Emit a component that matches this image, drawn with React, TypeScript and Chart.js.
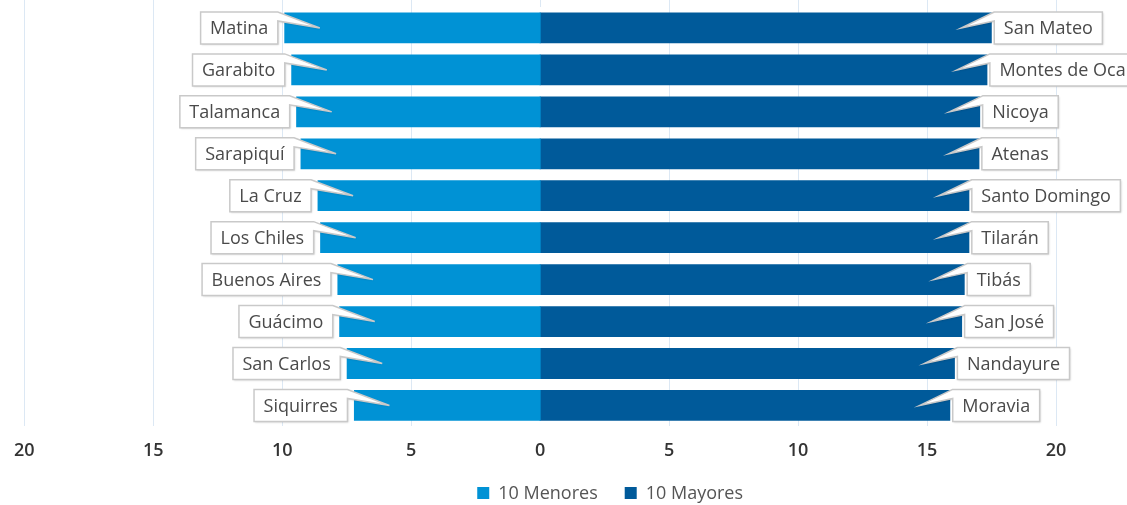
import React, { useEffect, useRef } from "react";
import { Chart, registerables } from "chart.js";

Chart.register(...registerables);

// ---- data ----
const menoresNames = [
  "Matina",
  "Garabito",
  "Talamanca",
  "Sarapiquí",
  "La Cruz",
  "Los Chiles",
  "Buenos Aires",
  "Guácimo",
  "San Carlos",
  "Siquirres",
];
const menoresValues = [9.9, 9.63, 9.44, 9.27, 8.61, 8.51, 7.84, 7.77, 7.48, 7.2];

const mayoresNames = [
  "San Mateo",
  "Montes de Oca",
  "Nicoya",
  "Atenas",
  "Santo Domingo",
  "Tilarán",
  "Tibás",
  "San José",
  "Nandayure",
  "Moravia",
];
const mayoresValues = [17.49, 17.32, 17.04, 17.01, 16.62, 16.62, 16.44, 16.34, 16.06, 15.88];

const seriesNames = ["10 Menores", "10 Mayores"];
const xMin = -20;
const xMax = 20;
const xStep = 5;

// ---- styles ----
const FONT = '"Open Sans", "DejaVu Sans", sans-serif';
const LIGHT = "#0092d5";
const DARK = "#005a9a";
const GRID = "#dce8f4";

const calloutPlugin = {
  id: "callouts",
  afterDatasetsDraw(chart: any) {
    const ctx = chart.ctx;
    ctx.save();
    ctx.font = `18px ${FONT}`;
    chart.data.datasets.forEach((_ds: any, di: number) => {
      const meta = chart.getDatasetMeta(di);
      const names = di === 0 ? menoresNames : mayoresNames;
      meta.data.forEach((bar: any, i: number) => {
        const { x, y } = bar.getProps(["x", "y"], true);
        const text = names[i];
        const tw = ctx.measureText(text).width;
        const bw = tw + 19;
        const bh = 32;
        const top = y - 16;
        let left: number;
        let right: number;
        ctx.beginPath();
        if (di === 0) {
          right = x - 7;
          left = right - bw;
          const tipX = x + 35;
          ctx.moveTo(left, top);
          ctx.lineTo(right, top);
          ctx.lineTo(tipX, y);
          ctx.lineTo(right, top + 9);
          ctx.lineTo(right, top + bh);
          ctx.lineTo(left, top + bh);
          ctx.closePath();
        } else {
          left = x + 3;
          right = left + bw;
          const tipX = x - 30;
          ctx.moveTo(left, top);
          ctx.lineTo(tipX, y);
          ctx.lineTo(left, top + 9);
          ctx.lineTo(left, top + bh);
          ctx.lineTo(right, top + bh);
          ctx.lineTo(right, top);
          ctx.closePath();
        }
        ctx.save();
        ctx.shadowColor = "rgba(0,0,0,0.18)";
        ctx.shadowBlur = 2;
        ctx.shadowOffsetX = 1;
        ctx.shadowOffsetY = 1;
        ctx.fillStyle = "#ffffff";
        ctx.fill();
        ctx.restore();
        ctx.lineWidth = 1.5;
        ctx.strokeStyle = "#c9c9c9";
        ctx.stroke();
        ctx.fillStyle = "#4a4a4a";
        ctx.textAlign = "center";
        ctx.textBaseline = "middle";
        ctx.fillText(text, left + bw / 2, y + 1);
      });
    });
    ctx.restore();
  },
};

const gridExtendPlugin = {
  id: "gridExtend",
  beforeDatasetsDraw(chart: any) {
    const ctx = chart.ctx;
    const xs = chart.scales.x;
    ctx.save();
    ctx.strokeStyle = GRID;
    ctx.lineWidth = 1;
    xs.ticks.forEach((t: any) => {
      const px = Math.round(xs.getPixelForValue(t.value)) + 0.5;
      ctx.beginPath();
      ctx.moveTo(px, 0);
      ctx.lineTo(px, chart.chartArea.top);
      ctx.stroke();
    });
    ctx.restore();
  },
};

const legendPlugin = {
  id: "customLegend",
  afterDraw(chart: any) {
    const ctx = chart.ctx;
    ctx.save();
    ctx.font = `18px ${FONT}`;
    const box = 12;
    const gapText = 9;
    const gapItem = 27;
    const items = chart.data.datasets.map((ds: any) => ({
      label: ds.label,
      color: ds.backgroundColor,
      w: ctx.measureText(ds.label).width,
    }));
    const total =
      items.reduce((s: number, it: any) => s + box + gapText + it.w, 0) +
      gapItem * (items.length - 1);
    const centerX = (chart.chartArea.left + chart.chartArea.right) / 2 + 70;
    const cy = 493;
    let x = centerX - total / 2;
    items.forEach((it: any) => {
      ctx.fillStyle = it.color;
      ctx.fillRect(x, cy - box / 2, box, box);
      ctx.fillStyle = "#555555";
      ctx.textAlign = "left";
      ctx.textBaseline = "middle";
      ctx.fillText(it.label, x + box + gapText, cy + 1);
      x += box + gapText + it.w + gapItem;
    });
    ctx.restore();
  },
};

export default function App() {
  const canvasRef = useRef<HTMLCanvasElement | null>(null);

  useEffect(() => {
    document.body.style.margin = "0";
    const canvas = canvasRef.current;
    if (!canvas) return;
    const chart = new Chart(canvas, {
      type: "bar",
      data: {
        labels: menoresNames,
        datasets: [
          {
            label: seriesNames[0],
            data: menoresValues.map((v) => -v),
            backgroundColor: LIGHT,
            borderWidth: 0,
            inflateAmount: 0.5,
            barPercentage: 1,
            categoryPercentage: 0.71,
          },
          {
            label: seriesNames[1],
            data: mayoresValues,
            backgroundColor: DARK,
            borderWidth: 0,
            inflateAmount: 0.5,
            barPercentage: 1,
            categoryPercentage: 0.71,
          },
        ],
      },
      options: {
        indexAxis: "y",
        responsive: true,
        maintainAspectRatio: false,
        animation: false,
        layout: { padding: { left: 21, right: 71, top: 7, bottom: 29 } },
        plugins: {
          legend: { display: false },
          tooltip: { enabled: false },
        },
        scales: {
          x: {
            stacked: true,
            min: xMin,
            max: xMax,
            border: { display: false },
            grid: {
              color: GRID,
              lineWidth: (c: any) => (c.tick && c.tick.value === 0 ? 0 : 1),
              drawTicks: false,
            },
            ticks: {
              stepSize: xStep,
              padding: 14,
              color: "#333333",
              font: { family: FONT, size: 18, weight: "600" },
              callback: (v: any) => String(Math.abs(Number(v))),
            },
          },
          y: {
            stacked: true,
            display: false,
            grid: { display: false },
          },
        },
      },
      plugins: [gridExtendPlugin, calloutPlugin, legendPlugin],
    });
    return () => chart.destroy();
  }, []);

  return (
    <div style={{ width: "1127px", height: "505px", position: "relative" }}>
      <canvas ref={canvasRef} />
    </div>
  );
}
